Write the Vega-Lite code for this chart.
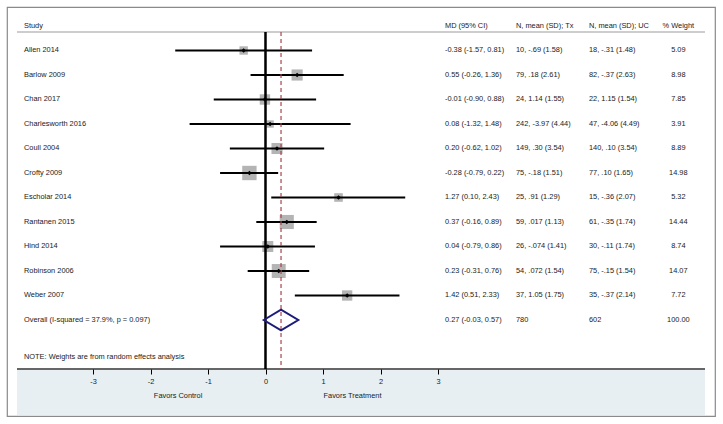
{
  "$schema": "https://vega.github.io/schema/vega-lite/v6.json",
  "width": 723,
  "height": 424,
  "autosize": {"type": "fit", "contains": "padding"},
  "padding": {"left": 7, "top": 7, "right": 8, "bottom": 8},
  "background": "white",
  "config": {
    "view": {"stroke": "#8a8a8a", "strokeWidth": 1.2},
    "text": {"font": "Liberation Sans", "fontSize": 7.4, "color": "#1a1a1a", "baseline": "middle"}
  },
  "datasets": {
    "table": [
      {"r": 0, "label": "Study", "ci": "MD (95% CI)", "tx": "N, mean (SD); Tx", "uc": "N, mean (SD); UC", "wt": "% Weight"},
      {"r": 1, "label": "Allen 2014", "md": -0.38, "lo": -1.57, "hi": 0.81, "w": 5.09, "ci": "-0.38 (-1.57, 0.81)", "tx": "10, -.69 (1.58)", "uc": "18, -.31 (1.48)", "wt": "5.09"},
      {"r": 2, "label": "Barlow 2009", "md": 0.55, "lo": -0.26, "hi": 1.36, "w": 8.98, "ci": "0.55 (-0.26, 1.36)", "tx": "79, .18 (2.61)", "uc": "82, -.37 (2.63)", "wt": "8.98"},
      {"r": 3, "label": "Chan 2017", "md": -0.01, "lo": -0.90, "hi": 0.88, "w": 7.85, "ci": "-0.01 (-0.90, 0.88)", "tx": "24, 1.14 (1.55)", "uc": "22, 1.15 (1.54)", "wt": "7.85"},
      {"r": 4, "label": "Charlesworth 2016", "md": 0.08, "lo": -1.32, "hi": 1.48, "w": 3.91, "ci": "0.08 (-1.32, 1.48)", "tx": "242, -3.97 (4.44)", "uc": "47, -4.06 (4.49)", "wt": "3.91"},
      {"r": 5, "label": "Coull 2004", "md": 0.20, "lo": -0.62, "hi": 1.02, "w": 8.89, "ci": "0.20 (-0.62, 1.02)", "tx": "149, .30 (3.54)", "uc": "140, .10 (3.54)", "wt": "8.89"},
      {"r": 6, "label": "Crofty 2009", "md": -0.28, "lo": -0.79, "hi": 0.22, "w": 14.98, "ci": "-0.28 (-0.79, 0.22)", "tx": "75, -.18 (1.51)", "uc": "77, .10 (1.65)", "wt": "14.98"},
      {"r": 7, "label": "Escholar 2014", "md": 1.27, "lo": 0.10, "hi": 2.43, "w": 5.32, "ci": "1.27 (0.10, 2.43)", "tx": "25, .91 (1.29)", "uc": "15, -.36 (2.07)", "wt": "5.32"},
      {"r": 8, "label": "Rantanen 2015", "md": 0.37, "lo": -0.16, "hi": 0.89, "w": 14.44, "ci": "0.37 (-0.16, 0.89)", "tx": "59, .017 (1.13)", "uc": "61, -.35 (1.74)", "wt": "14.44"},
      {"r": 9, "label": "Hind 2014", "md": 0.04, "lo": -0.79, "hi": 0.86, "w": 8.74, "ci": "0.04 (-0.79, 0.86)", "tx": "26, -.074 (1.41)", "uc": "30, -.11 (1.74)", "wt": "8.74"},
      {"r": 10, "label": "Robinson 2006", "md": 0.23, "lo": -0.31, "hi": 0.76, "w": 14.07, "ci": "0.23 (-0.31, 0.76)", "tx": "54, .072 (1.54)", "uc": "75, -.15 (1.54)", "wt": "14.07"},
      {"r": 11, "label": "Weber 2007", "md": 1.42, "lo": 0.51, "hi": 2.33, "w": 7.72, "ci": "1.42 (0.51, 2.33)", "tx": "37, 1.05 (1.75)", "uc": "35, -.37 (2.14)", "wt": "7.72"},
      {"r": 12, "label": "Overall  (I-squared = 37.9%, p = 0.097)", "md": 0.27, "lo": -0.03, "hi": 0.57, "ci": "0.27 (-0.03, 0.57)", "tx": "780", "uc": "602", "wt": "100.00", "overall": true}
    ],
    "note": [{"r": 13.5, "label": "NOTE: Weights are from random effects analysis"}],
    "favors": [
      {"pos": -1.52, "label": "Favors Control"},
      {"pos": 1.513, "label": "Favors Treatment"}
    ]
  },
  "data": {"name": "table"},
  "layer": [
    {
      "mark": {"type": "rect", "color": "#e7eff3"},
      "encoding": {
        "x": {"datum": -4.3217, "type": "quantitative", "scale": {"domain": [-4.4957, 7.8174], "nice": false, "zero": false},
              "axis": {"values": [-3, -2, -1, 0, 1, 2, 3], "domain": false, "grid": false, "ticks": true, "tickColor": "#000000", "tickSize": 5, "tickWidth": 1, "labelFont": "Liberation Sans", "labelFontSize": 7.4, "labelColor": "#1a1a1a", "labelPadding": 3, "labelExpr": "'' + datum.value", "offset": -47, "title": null, "zindex": 1}},
        "x2": {"datum": 7.6435},
        "y": {"datum": 14, "type": "quantitative", "scale": {"domain": [-0.7755, 15.9184], "nice": false, "zero": false, "reverse": true}, "axis": null},
        "y2": {"datum": 15.88}
      }
    },
    {
      "mark": {"type": "rule", "color": "#666666", "strokeWidth": 2},
      "encoding": {
        "x": {"datum": -4.3217, "type": "quantitative"},
        "x2": {"datum": 7.6435},
        "y": {"datum": 14, "type": "quantitative"}
      }
    },
    {
      "mark": {"type": "rule", "color": "#cccccc", "strokeWidth": 1.5},
      "encoding": {
        "x": {"datum": -4.3217, "type": "quantitative"},
        "x2": {"datum": 7.6435},
        "y": {"datum": 0.245, "type": "quantitative"}
      }
    },
    {
      "transform": [{"filter": "datum.r >= 1 && datum.r <= 11"}],
      "mark": {"type": "point", "shape": "square", "filled": true, "color": "#b4b4b4", "opacity": 1, "strokeWidth": 0},
      "encoding": {
        "x": {"field": "md", "type": "quantitative"},
        "y": {"field": "r", "type": "quantitative"},
        "size": {"field": "w", "type": "quantitative", "scale": {"type": "linear", "domain": [0, 15], "range": [0, 207]}, "legend": null}
      }
    },
    {
      "mark": {"type": "rule", "color": "#000000", "strokeWidth": 1.2},
      "encoding": {
        "x": {"datum": 0, "type": "quantitative"},
        "y": {"datum": 0.245, "type": "quantitative"},
        "y2": {"datum": 14}
      }
    },
    {
      "transform": [{"filter": "datum.r >= 1 && datum.r <= 11"}],
      "mark": {"type": "rule", "color": "#000000", "strokeWidth": 2},
      "encoding": {
        "x": {"field": "lo", "type": "quantitative"},
        "x2": {"field": "hi"},
        "y": {"field": "r", "type": "quantitative"}
      }
    },
    {
      "transform": [{"filter": "datum.overall == true"}],
      "mark": {"type": "rule", "color": "#a8444f", "strokeWidth": 1.2, "strokeDash": [4, 3]},
      "encoding": {
        "x": {"field": "md", "type": "quantitative"},
        "y": {"datum": 0.245, "type": "quantitative"},
        "y2": {"datum": 14}
      }
    },
    {
      "transform": [{"filter": "datum.r >= 1 && datum.r <= 11"}],
      "mark": {"type": "point", "shape": "diamond", "filled": true, "color": "#000000", "size": 22, "opacity": 1},
      "encoding": {
        "x": {"field": "md", "type": "quantitative"},
        "y": {"field": "r", "type": "quantitative"}
      }
    },
    {
      "transform": [{"filter": "datum.overall == true"}],
      "mark": {"type": "point", "shape": "M-1,0L0,-0.6L1,0L0,0.6Z", "filled": false, "stroke": "#1c1c7a", "strokeWidth": 2, "size": 1190, "opacity": 1},
      "encoding": {
        "x": {"field": "md", "type": "quantitative"},
        "y": {"field": "r", "type": "quantitative"}
      }
    },
    {
      "mark": {"type": "text", "align": "left"},
      "encoding": {
        "x": {"datum": -4.2, "type": "quantitative"},
        "y": {"field": "r", "type": "quantitative"},
        "text": {"field": "label"}
      }
    },
    {
      "mark": {"type": "text", "align": "left"},
      "encoding": {
        "x": {"datum": 3.1217, "type": "quantitative"},
        "y": {"field": "r", "type": "quantitative"},
        "text": {"field": "ci"}
      }
    },
    {
      "mark": {"type": "text", "align": "left"},
      "encoding": {
        "x": {"datum": 4.3565, "type": "quantitative"},
        "y": {"field": "r", "type": "quantitative"},
        "text": {"field": "tx"}
      }
    },
    {
      "mark": {"type": "text", "align": "left"},
      "encoding": {
        "x": {"datum": 5.626, "type": "quantitative"},
        "y": {"field": "r", "type": "quantitative"},
        "text": {"field": "uc"}
      }
    },
    {
      "mark": {"type": "text", "align": "center"},
      "encoding": {
        "x": {"datum": 7.18, "type": "quantitative"},
        "y": {"field": "r", "type": "quantitative"},
        "text": {"field": "wt"}
      }
    },
    {
      "data": {"name": "note"},
      "mark": {"type": "text", "align": "left"},
      "encoding": {
        "x": {"datum": -4.2, "type": "quantitative"},
        "y": {"field": "r", "type": "quantitative"},
        "text": {"field": "label"}
      }
    },
    {
      "data": {"name": "favors"},
      "mark": {"type": "text", "align": "center"},
      "encoding": {
        "x": {"field": "pos", "type": "quantitative"},
        "y": {"datum": 15.1, "type": "quantitative"},
        "text": {"field": "label"}
      }
    }
  ]
}
